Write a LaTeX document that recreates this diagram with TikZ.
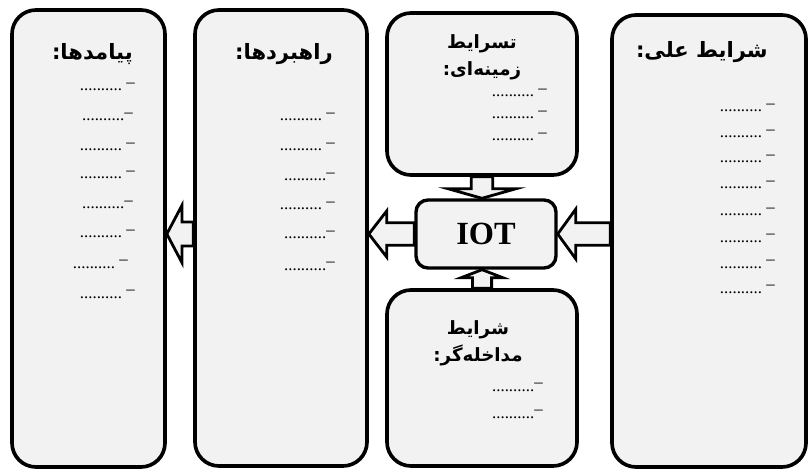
\documentclass[tikz,border=0pt]{standalone}
\usepackage{fontspec}
\setmainfont{Liberation Serif}
\newfontfamily\farsi[Script=Arabic]{DejaVu Sans}
\TeXXeTstate=1
\usetikzlibrary{calc}
\definecolor{boxGray}{HTML}{F2F2F2}
\tikzset{
  boxP/.style={rectangle, rounded corners=6mm, draw=black, line width=2.6pt,
               fill=boxGray, inner sep=0pt},
  boxIot/.style={rectangle, rounded corners=3mm, draw=black, line width=2.4pt,
                 fill=boxGray, font=\bfseries\fontsize{23}{23}\selectfont},
  headP/.style={font=\farsi\bfseries\fontsize{15}{19}\selectfont, inner sep=0pt,
                align=center},
  headS/.style={headP, font=\farsi\bfseries\fontsize{13}{19}\selectfont},
  dotP/.style={font=\fontsize{12}{12}\selectfont, inner sep=0pt, anchor=base east},
  blockarr/.style={draw=black, line width=2pt, fill=boxGray, line join=miter},
}
\newcommand{\dotsline}{..........}
\newcommand{\ldash}{\raisebox{.2em}{–}}
% from, to, shaft half width, head half width, head length
\newcommand{\blockarrow}[5]{%
  \coordinate (h) at ($(#2)!#5!(#1)$);
  \draw[blockarr] ($(#1)!#3!90:(#2)$) -- ($(h)!#3!90:(#2)$) -- ($(h)!#4!90:(#2)$)
    -- (#2) -- ($(h)!#4!-90:(#2)$) -- ($(h)!#3!-90:(#2)$) -- ($(#1)!#3!-90:(#2)$) -- cycle;}

\begin{document}
\begin{tikzpicture}[x=0.25mm, y=-0.25mm]
  \useasboundingbox (0,0) rectangle (809,470);
  % boxes
  \node[boxP, minimum width=38.25mm, minimum height=114.25mm] (effects) at (88.5,238.5) {};
  \node[boxP, minimum width=43mm, minimum height=114mm] (strat) at (281,238) {};
  \node[boxP, minimum width=47.5mm, minimum height=40.5mm] (context) at (482,94) {};
  \node[boxP, minimum width=47.5mm, minimum height=44mm] (interv) at (482,378) {};
  \node[boxP, minimum width=48.5mm, minimum height=113mm] (causal) at (709,241) {};
  \node[boxIot, minimum width=35mm, minimum height=17mm] (iot) at (486,234) {IOT};

  % headings
  \node[headP, anchor=base east] (effectsH) at (133,60) {\beginR پیامدها:\endR};
  \node[headP, anchor=base east] (stratH) at (333,60) {\beginR راهبردها:\endR};
  \node[headP, anchor=base east] (causalH) at (768,58) {\beginR شرایط علی:\endR};
  \node[headS] (contextH) at (482,57) {\beginR تسرایط\endR\\\beginR زمینه‌ای:\endR};
  \node[headS] (intervH) at (478,343) {\beginR شرایط\endR\\\beginR مداخله‌گر:\endR};

  % dotted lines
  \foreach \y/\x/\t [count=\i] in {85/135/{\dotsline\ \ldash}, 115/133/{\dotsline\ldash},
      145/135/{\dotsline\ \ldash}, 173/135/{\dotsline\ \ldash}, 203/133/{\dotsline\ldash},
      232/135/{\dotsline\ \ldash}, 262/128/{\dotsline\ \ldash}, 292/135/{\dotsline\ \ldash}}
    \node[dotP] (eff\i) at (\x,\y+6) {\t};
  \foreach \y/\t [count=\i] in {115/{\dotsline\ \ldash}, 145/{\dotsline\ \ldash},
      175/{\dotsline\ldash}, 204/{\dotsline\ \ldash}, 233/{\dotsline\ldash},
      264/{\dotsline\ldash}}
    \node[dotP] (str\i) at (335,\y+6) {\t};
  \foreach \y [count=\i] in {91,113,135}
    \node[dotP] (ctx\i) at (547,\y+6) {\dotsline\ \ldash};
  \foreach \y [count=\i] in {385,412}
    \node[dotP] (int\i) at (543,\y+6) {\dotsline\ldash};
  \foreach \y [count=\i] in {106,132,157,183,210,236,262,287}
    \node[dotP] (cau\i) at (775,\y+6) {\dotsline\ \ldash};

  % block arrows
  \blockarrow{causal.west |- iot}{iot.east}{2.8mm}{6.2mm}{4.5mm}
  \blockarrow{iot.west}{strat.east |- iot}{2.8mm}{5.8mm}{4.5mm}
  \blockarrow{strat.west |- iot}{effects.east |- iot}{3mm}{7.2mm}{3.8mm}
  \blockarrow{context.south}{context.south |- iot.north}{2.7mm}{8.5mm}{2.4mm}
  \blockarrow{interv.north}{interv.north |- iot.south}{2.4mm}{5.2mm}{2mm}
\end{tikzpicture}
\end{document}
